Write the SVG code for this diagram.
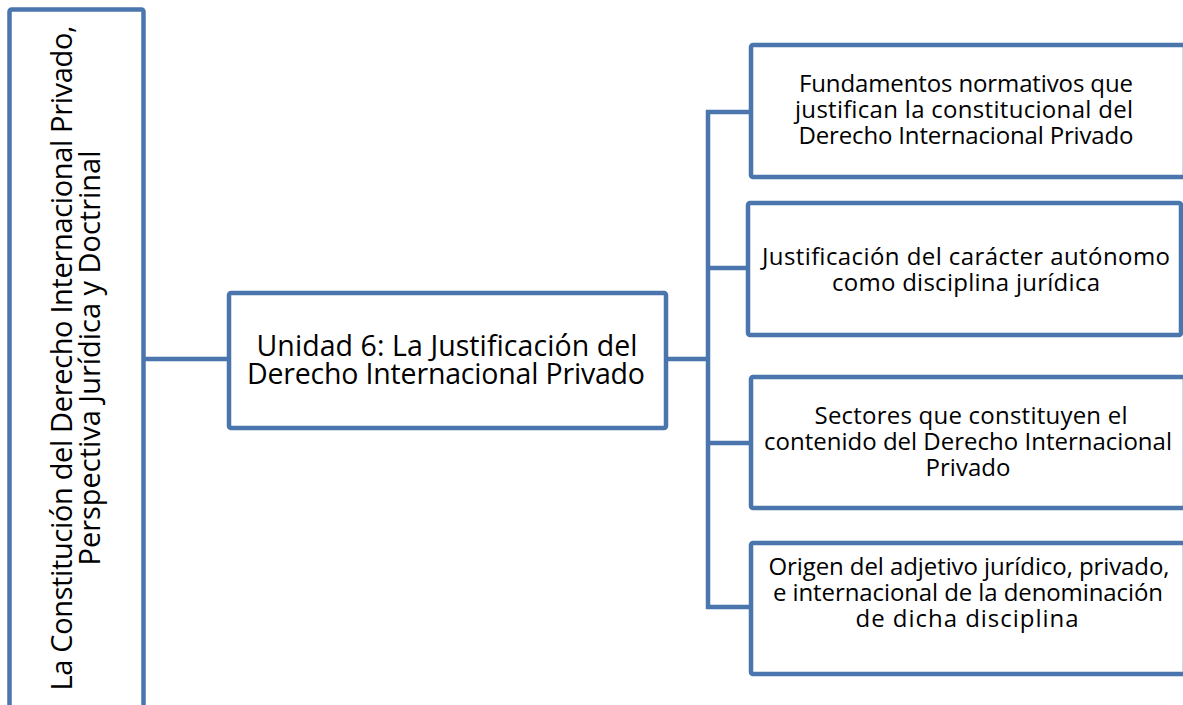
<svg xmlns="http://www.w3.org/2000/svg" width="1183" height="705" viewBox="0 0 1183 705">
<style>
.box{fill:#ffffff;stroke:#4A75AD;stroke-width:4.5}
.con{fill:none;stroke:#4A75AD;stroke-width:4.5}
.t{font-family:"Open Sans","Noto Sans",sans-serif;fill:#000000;text-anchor:middle}
.r{font-size:24px}
.m{font-size:28.5px}
.l{font-size:29px}
</style>
<rect width="1183" height="705" fill="#ffffff"/>
<g id="connectors">
<path class="con" d="M144 359H229M666 359H708M708 110V609M706 112H751M706 268H748M706 443H751M706 607H751"/>
</g>
<g id="root">
<rect class="box" x="9.5" y="9.5" width="134" height="720" rx="2"/>
<g transform="translate(0,358) rotate(-90)">
<text class="t l" x="0" y="72" textLength="665">La Constitución del Derecho Internacional Privado,</text>
<text class="t l" x="0" y="100" textLength="415">Perspectiva Jurídica y Doctrinal</text>
</g>
</g>
<g id="unidad">
<rect class="box" x="229" y="293" width="437" height="135" rx="2"/>
<text class="t m" x="447" y="356" textLength="381">Unidad 6: La Justificación del</text>
<text class="t m" x="446" y="384" textLength="398">Derecho Internacional Privado</text>
</g>
<g id="fundamentos">
<rect class="box" x="751" y="45" width="434" height="132" rx="2"/>
<text class="t r" x="966" y="92" textLength="334">Fundamentos normativos que</text>
<text class="t r" x="964" y="118" textLength="338">justifican la constitucional del</text>
<text class="t r" x="966" y="144" textLength="335">Derecho Internacional Privado</text>
</g>
<g id="justificacion">
<rect class="box" x="748" y="203" width="433" height="132" rx="2"/>
<text class="t r" x="966" y="265" textLength="408">Justificación del carácter autónomo</text>
<text class="t r" x="966" y="291" textLength="268">como disciplina jurídica</text>
</g>
<g id="sectores">
<rect class="box" x="751" y="377" width="434" height="131" rx="2"/>
<text class="t r" x="971" y="424" textLength="313">Sectores que constituyen el</text>
<text class="t r" x="968" y="450" textLength="408">contenido del Derecho Internacional</text>
<text class="t r" x="968" y="476" textLength="85">Privado</text>
</g>
<g id="origen">
<rect class="box" x="751" y="543" width="434" height="131" rx="2"/>
<text class="t r" x="969" y="575" textLength="401">Origen del adjetivo jurídico, privado,</text>
<text class="t r" x="968" y="601" textLength="390">e internacional de la denominación</text>
<text class="t r" x="967" y="627" textLength="223">de dicha disciplina</text>
</g>
</svg>
